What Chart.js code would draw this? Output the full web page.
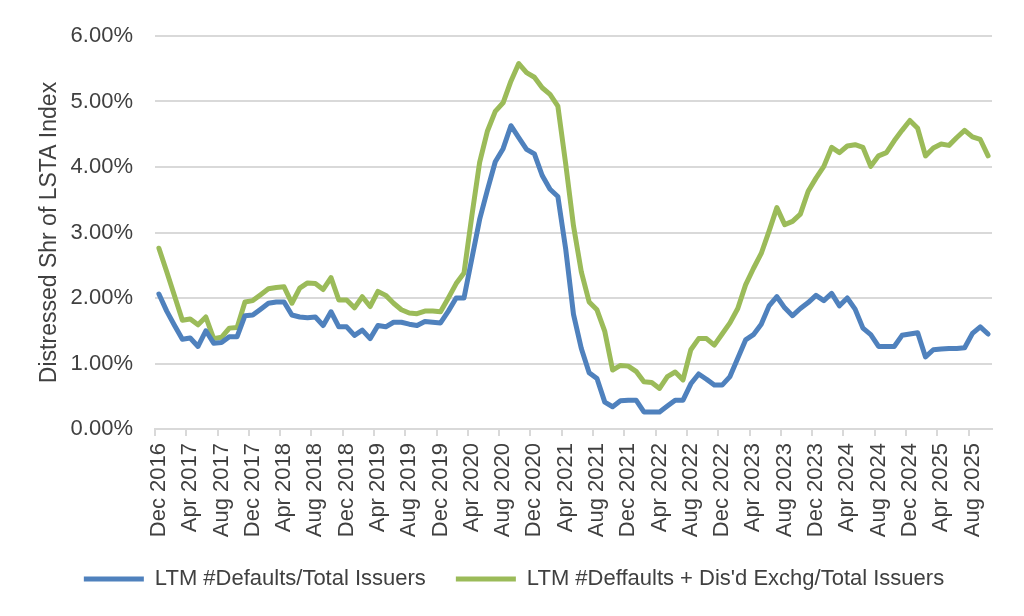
<!DOCTYPE html>
<html>
<head>
<meta charset="utf-8">
<title>Distressed share of LSTA Index</title>
<script src="https://cdn.jsdelivr.net/npm/chart.js@4.4.1/dist/chart.umd.min.js"></script>
<style>
    html, body { margin: 0; padding: 0; background: #ffffff; }
    #wrap { width: 1024px; height: 616px; }
</style>
</head>
<body>
<div id="wrap"><canvas id="distressChart" width="1024" height="616"></canvas></div>
<script>
// Monthly categories, Dec 2016 - Oct 2025
const months = [
    'Dec 2016',
    'Jan 2017', 'Feb 2017', 'Mar 2017', 'Apr 2017', 'May 2017', 'Jun 2017', 'Jul 2017', 'Aug 2017', 'Sep 2017', 'Oct 2017', 'Nov 2017', 'Dec 2017',
    'Jan 2018', 'Feb 2018', 'Mar 2018', 'Apr 2018', 'May 2018', 'Jun 2018', 'Jul 2018', 'Aug 2018', 'Sep 2018', 'Oct 2018', 'Nov 2018', 'Dec 2018',
    'Jan 2019', 'Feb 2019', 'Mar 2019', 'Apr 2019', 'May 2019', 'Jun 2019', 'Jul 2019', 'Aug 2019', 'Sep 2019', 'Oct 2019', 'Nov 2019', 'Dec 2019',
    'Jan 2020', 'Feb 2020', 'Mar 2020', 'Apr 2020', 'May 2020', 'Jun 2020', 'Jul 2020', 'Aug 2020', 'Sep 2020', 'Oct 2020', 'Nov 2020', 'Dec 2020',
    'Jan 2021', 'Feb 2021', 'Mar 2021', 'Apr 2021', 'May 2021', 'Jun 2021', 'Jul 2021', 'Aug 2021', 'Sep 2021', 'Oct 2021', 'Nov 2021', 'Dec 2021',
    'Jan 2022', 'Feb 2022', 'Mar 2022', 'Apr 2022', 'May 2022', 'Jun 2022', 'Jul 2022', 'Aug 2022', 'Sep 2022', 'Oct 2022', 'Nov 2022', 'Dec 2022',
    'Jan 2023', 'Feb 2023', 'Mar 2023', 'Apr 2023', 'May 2023', 'Jun 2023', 'Jul 2023', 'Aug 2023', 'Sep 2023', 'Oct 2023', 'Nov 2023', 'Dec 2023',
    'Jan 2024', 'Feb 2024', 'Mar 2024', 'Apr 2024', 'May 2024', 'Jun 2024', 'Jul 2024', 'Aug 2024', 'Sep 2024', 'Oct 2024', 'Nov 2024', 'Dec 2024',
    'Jan 2025', 'Feb 2025', 'Mar 2025', 'Apr 2025', 'May 2025', 'Jun 2025', 'Jul 2025', 'Aug 2025', 'Sep 2025', 'Oct 2025'
];

// LTM #Defaults / Total Issuers (%)
const defaultsRate = [
    2.06,
    1.80, 1.58, 1.37, 1.39, 1.26, 1.50, 1.31, 1.32, 1.41, 1.41, 1.73, 1.74,
    1.83, 1.92, 1.94, 1.94, 1.74, 1.71, 1.70, 1.71, 1.58, 1.79, 1.56, 1.56,
    1.43, 1.51, 1.38, 1.58, 1.56, 1.63, 1.63, 1.60, 1.58, 1.64, 1.63, 1.62,
    1.80, 2.00, 2.00, 2.60, 3.20, 3.65, 4.08, 4.28, 4.63, 4.45, 4.27, 4.20,
    3.87, 3.66, 3.55, 2.75, 1.75, 1.23, 0.86, 0.77, 0.41, 0.34, 0.43, 0.44,
    0.44, 0.26, 0.26, 0.26, 0.35, 0.44, 0.44, 0.69, 0.84, 0.76, 0.67, 0.67,
    0.80, 1.08, 1.36, 1.44, 1.60, 1.88, 2.02, 1.85, 1.73, 1.84, 1.93, 2.04,
    1.96, 2.07, 1.88, 2.00, 1.83, 1.54, 1.44, 1.26, 1.26, 1.26, 1.43, 1.45,
    1.47, 1.10, 1.21, 1.22, 1.23, 1.23, 1.24, 1.46, 1.56, 1.45
];

// LTM #Defaults + distressed exchanges / Total Issuers (%)
const defaultsDxRate = [
    2.76,
    2.40, 2.03, 1.66, 1.68, 1.59, 1.71, 1.38, 1.40, 1.54, 1.55, 1.94, 1.96,
    2.05, 2.14, 2.16, 2.17, 1.92, 2.15, 2.23, 2.22, 2.13, 2.31, 1.97, 1.97,
    1.85, 2.02, 1.87, 2.10, 2.04, 1.92, 1.82, 1.77, 1.76, 1.80, 1.80, 1.79,
    2.00, 2.22, 2.38, 3.25, 4.07, 4.55, 4.85, 4.98, 5.31, 5.58, 5.44, 5.37,
    5.21, 5.11, 4.93, 4.05, 3.10, 2.40, 1.94, 1.82, 1.49, 0.90, 0.97, 0.96,
    0.88, 0.72, 0.71, 0.62, 0.80, 0.87, 0.75, 1.21, 1.38, 1.38, 1.28, 1.45,
    1.62, 1.84, 2.20, 2.45, 2.68, 3.02, 3.38, 3.12, 3.17, 3.28, 3.63, 3.83,
    4.01, 4.30, 4.22, 4.32, 4.34, 4.30, 4.01, 4.17, 4.22, 4.40, 4.56, 4.71,
    4.59, 4.17, 4.29, 4.35, 4.33, 4.45, 4.56, 4.46, 4.42, 4.17
];

const seriesNames = ['LTM #Defaults/Total Issuers', "LTM #Deffaults + Dis'd Exchg/Total Issuers"];
const yTicks = [0, 1, 2, 3, 4, 5, 6];
const labelEvery = 4;

const textColor = '#404040';
const gridColor = '#d9d9d9';
const fontFamily = "'Liberation Sans', Arial, sans-serif";

document.addEventListener('DOMContentLoaded', function() {
    initChart();
});

function initChart() {
    const ctx = document.getElementById('distressChart').getContext('2d');
    new Chart(ctx, {
        type: 'line',
        data: {
            labels: months,
            datasets: [{
                label: seriesNames[0],
                data: defaultsRate,
                borderColor: '#4f81bd',
                backgroundColor: '#4f81bd',
                borderWidth: 5,
                pointRadius: 0,
                tension: 0,
                borderCapStyle: 'round',
                borderJoinStyle: 'round',
                pointStyle: 'line'
            }, {
                label: seriesNames[1],
                data: defaultsDxRate,
                borderColor: '#9bbb59',
                backgroundColor: '#9bbb59',
                borderWidth: 5,
                pointRadius: 0,
                tension: 0,
                borderCapStyle: 'round',
                borderJoinStyle: 'round',
                pointStyle: 'line'
            }]
        },
        options: {
            responsive: false,
            animation: false,
            layout: {
                padding: { top: 36, right: 32, left: 36, bottom: 16 }
            },
            plugins: {
                tooltip: { enabled: false },
                legend: {
                    position: 'bottom',
                    maxHeight: 80,
                    labels: {
                        usePointStyle: true,
                        pointStyleWidth: 60,
                        padding: 30,
                        color: textColor,
                        font: { family: fontFamily, size: 22 }
                    }
                }
            },
            scales: {
                x: {
                    offset: true,
                    afterFit: function(scale) { scale.height = 109; },
                    border: { display: true, color: gridColor, width: 2 },
                    grid: {
                        offset: true,
                        drawOnChartArea: false,
                        drawTicks: true,
                        tickLength: 7,
                        lineWidth: 2,
                        color: function(c) {
                            return c.index % labelEvery === 0 ? gridColor : 'rgba(0,0,0,0)';
                        }
                    },
                    ticks: {
                        autoSkip: false,
                        minRotation: 90,
                        maxRotation: 90,
                        padding: 7,
                        color: textColor,
                        font: { family: fontFamily, size: 22 },
                        callback: function(value, index) {
                            return index % labelEvery === 0 ? months[index] : '';
                        }
                    }
                },
                y: {
                    min: yTicks[0],
                    max: yTicks[yTicks.length - 1],
                    afterFit: function(scale) { scale.width = 119; },
                    afterBuildTicks: function(scale) {
                        scale.ticks = yTicks.map(function(v) { return { value: v }; });
                    },
                    border: { display: false },
                    grid: {
                        color: gridColor,
                        lineWidth: 2,
                        drawTicks: false
                    },
                    ticks: {
                        padding: 22,
                        color: textColor,
                        font: { family: fontFamily, size: 22 },
                        callback: function(value) { return value.toFixed(2) + '%'; }
                    },
                    title: {
                        display: true,
                        text: 'Distressed Shr of LSTA Index',
                        color: textColor,
                        padding: { top: 0, bottom: 0 },
                        font: { family: fontFamily, size: 23 }
                    }
                }
            }
        }
    });
}
</script>
</body>
</html>
